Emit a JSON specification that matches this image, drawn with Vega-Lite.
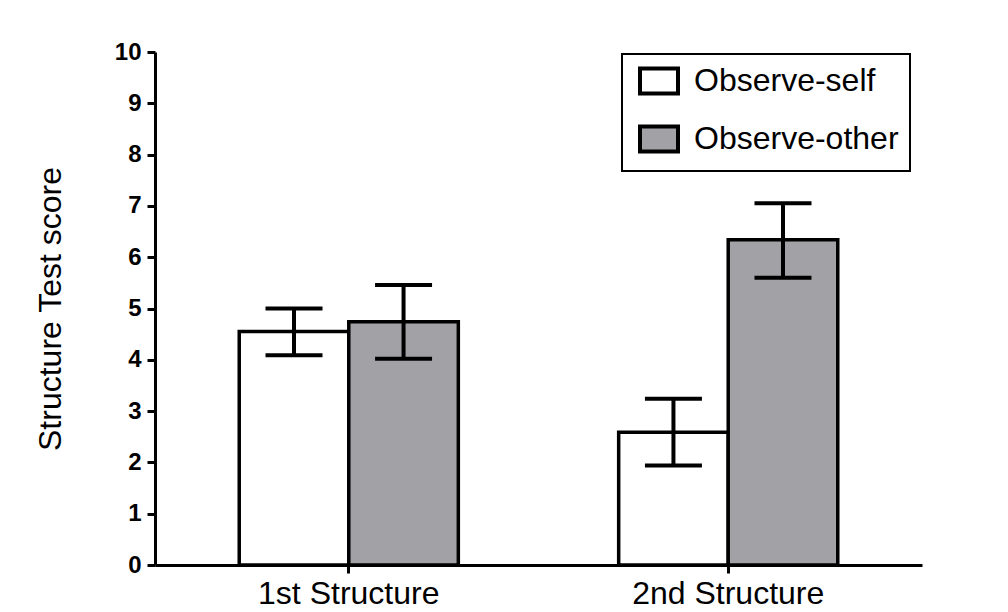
{
  "$schema": "https://vega.github.io/schema/vega-lite/v6.json",
  "autosize": "none",
  "width": 767,
  "height": 513,
  "padding": {"left": 155, "top": 52, "right": 86, "bottom": 47},
  "background": "white",
  "config": {
    "font": "Liberation Sans",
    "view": {"stroke": null},
    "axis": {"domainColor": "black", "tickColor": "black", "labelColor": "black", "titleColor": "black", "grid": false, "domainWidth": 3, "tickWidth": 3, "tickSize": 8}
  },
  "data": {
    "values": [
      {"structure": "1st Structure", "group": "Observe-self", "score": 4.55, "lo": 4.09, "hi": 5.0},
      {"structure": "1st Structure", "group": "Observe-other", "score": 4.74, "lo": 4.02, "hi": 5.46},
      {"structure": "2nd Structure", "group": "Observe-self", "score": 2.59, "lo": 1.94, "hi": 3.24},
      {"structure": "2nd Structure", "group": "Observe-other", "score": 6.34, "lo": 5.6, "hi": 7.05}
    ]
  },
  "encoding": {
    "x": {
      "field": "structure", "type": "nominal", "sort": null,
      "scale": {"paddingInner": 0.4226, "paddingOuter": 0.222},
      "axis": {"title": null, "labelAngle": 0, "labelFontSize": 32, "labelPadding": 5, "labelLimit": 500}
    },
    "xOffset": {"field": "group", "type": "nominal", "sort": ["Observe-self", "Observe-other"], "scale": {"paddingInner": 0, "paddingOuter": 0}}
  },
  "layer": [
    {
      "mark": {"type": "bar", "stroke": "black", "strokeWidth": 3.5, "strokeJoin": "miter"},
      "encoding": {
        "y": {
          "field": "score", "type": "quantitative",
          "scale": {"domain": [0, 10], "nice": false},
          "axis": {"title": "Structure Test score", "titleFontSize": 32, "titleFontWeight": "normal", "titlePadding": 47, "values": [0,1,2,3,4,5,6,7,8,9,10], "labelFontSize": 24, "labelFontWeight": "bold", "labelPadding": 6}
        },
        "color": {
          "field": "group", "type": "nominal",
          "scale": {"domain": ["Observe-self", "Observe-other"], "range": ["white", "#a2a2a6"]},
          "legend": {
            "title": null, "orient": "none", "legendX": 467, "legendY": 2, "direction": "vertical",
            "strokeColor": "black", "fillColor": "white", "padding": 11, "rowPadding": 16,
            "labelFontSize": 32, "labelOffset": 19, "labelColor": "black", "labelLimit": 400,
            "symbolSize": 625, "symbolType": "M-1.52,-1L1.52,-1L1.52,1L-1.52,1Z", "symbolOffset": 10,
            "symbolStrokeColor": "black", "symbolStrokeWidth": 4, "symbolOpacity": 1,
            "encode": {"legend": {"update": {"strokeWidth": {"value": 2}}}}
          }
        }
      }
    },
    {
      "mark": {"type": "rule", "color": "black", "strokeWidth": 4},
      "encoding": {"y": {"field": "lo", "type": "quantitative"}, "y2": {"field": "hi"}}
    },
    {
      "mark": {"type": "tick", "orient": "horizontal", "color": "black", "thickness": 4, "size": 57, "opacity": 1},
      "encoding": {"y": {"field": "lo", "type": "quantitative"}}
    },
    {
      "mark": {"type": "tick", "orient": "horizontal", "color": "black", "thickness": 4, "size": 57, "opacity": 1},
      "encoding": {"y": {"field": "hi", "type": "quantitative"}}
    }
  ]
}
